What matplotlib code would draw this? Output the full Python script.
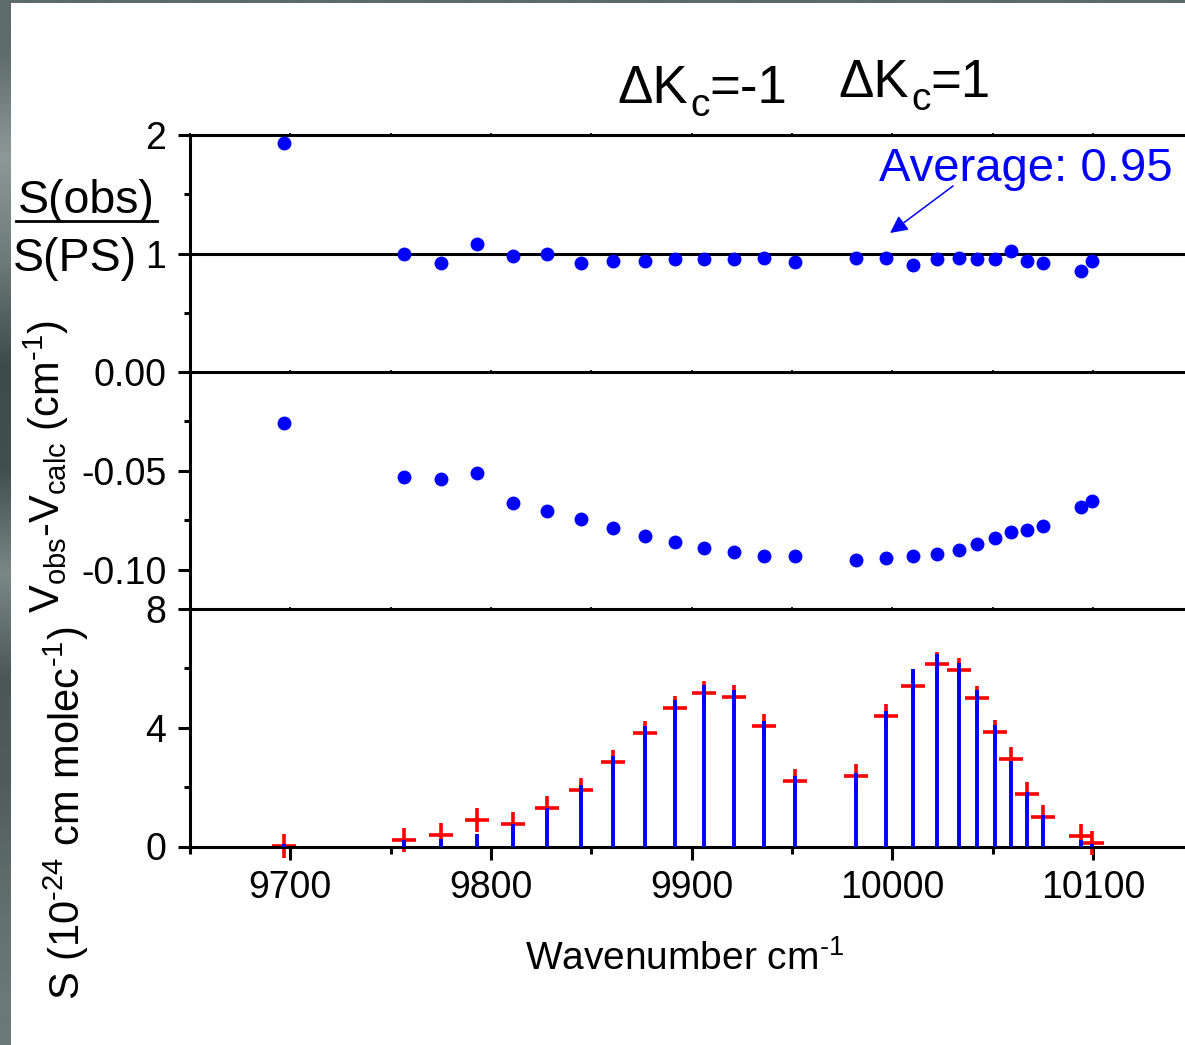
import numpy as np
import matplotlib
matplotlib.use("Agg")
import matplotlib.pyplot as plt
from matplotlib.ticker import FixedLocator, MultipleLocator
from matplotlib.patches import Rectangle
from matplotlib.lines import Line2D

plt.rcParams["font.family"] = ["Liberation Sans", "DejaVu Sans"]
plt.rcParams["mathtext.fontset"] = "custom"
plt.rcParams["mathtext.rm"] = "Liberation Sans"
plt.rcParams["mathtext.default"] = "regular"
plt.rcParams["axes.unicode_minus"] = False

# Line positions (cm-1)
wavenumber = [9697, 9756.5, 9775, 9793, 9811, 9828, 9845, 9861, 9876.5,
              9891.5, 9906, 9921, 9936, 9951.5, 9982, 9997, 10010, 10022,
              10033, 10042, 10051, 10059, 10067, 10075, 10094, 10099.5]

# Intensity ratio S(obs)/S(PS)
ratio = [1.93, 1.00, 0.92, 1.08, 0.98, 1.00, 0.92, 0.94, 0.94,
         0.95, 0.95, 0.95, 0.96, 0.93, 0.96, 0.96, 0.90, 0.95,
         0.96, 0.95, 0.95, 1.02, 0.94, 0.92, 0.85, 0.94]

# Position residuals obs - calc (cm-1)
resid = [-0.026, -0.053, -0.054, -0.051, -0.066, -0.070, -0.074, -0.079, -0.083,
         -0.086, -0.089, -0.091, -0.093, -0.093, -0.095, -0.094, -0.093, -0.092,
         -0.090, -0.087, -0.084, -0.081, -0.080, -0.078, -0.068, -0.065]

# Line intensities (1e-24 cm/molec): observed sticks and calculated crosses
s_obs = [0.08, 0.22, 0.25, 0.43, 0.77, 1.31, 2.06, 3.04, 4.05,
         4.95, 5.44, 5.27, 4.22, 2.39, 2.48, 4.58, 5.97, 6.48,
         6.17, 5.27, 4.08, 2.87, 1.85, 1.07, 0.22, 0.09]
s_calc = [0.03, 0.22, 0.39, 0.90, 0.77, 1.31, 1.90, 2.86, 3.83,
          4.67, 5.18, 5.02, 4.07, 2.22, 2.39, 4.41, 5.39, 6.16,
          5.95, 5.00, 3.87, 2.95, 1.76, 1.01, 0.36, 0.11]

average_ratio = 0.95

W, H = 1185, 1045
fig = plt.figure(figsize=(W / 100, H / 100), dpi=100)

# slide background strip on the left / top, white page
bg_colors = ["#5d6b6a", "#8d9997", "#6c7a78", "#3d4b4a", "#414f4e",
             "#7a8886", "#4a5756", "#505d5c", "#5f6d6b", "#6a7877"]
rgb = np.array([matplotlib.colors.to_rgb(c) for c in bg_colors])[:, None, :]
ax_bg = fig.add_axes([0, 0, 1, 1], zorder=-10)
ax_bg.imshow(rgb, aspect="auto", extent=[0, 1, 0, 1], interpolation="bilinear")
ax_bg.axis("off")
ax_bg.add_patch(Rectangle((11 / W, 0), 1, 1 - 3 / H, transform=ax_bg.transAxes,
                          facecolor="white", edgecolor="none"))

left = 190 / W
width = 1003.5 / W
ax1 = fig.add_axes([left, (H - 372) / H, width, 237 / H])
ax2 = fig.add_axes([left, (H - 609) / H, width, 237 / H])
ax3 = fig.add_axes([left, (H - 846.5) / H, width, 237.5 / H])

blue = "#0000ff"
red = "#ff0000"
lw_axis = 2.2

for ax in (ax1, ax2, ax3):
    ax.set_xlim(9650, 10150)
    ax.spines["right"].set_visible(False)
    ax.spines["left"].set_linewidth(lw_axis)
    ax.spines["bottom"].set_linewidth(lw_axis)
    ax.spines["top"].set_linewidth(lw_axis)
    ax.xaxis.set_major_locator(MultipleLocator(100))
    ax.xaxis.set_minor_locator(MultipleLocator(50))
    ax.tick_params(axis="y", which="major", direction="out", length=8.6,
                   width=lw_axis, labelsize=27, pad=8.5)
    ax.tick_params(axis="y", which="minor", direction="out", length=4.5,
                   width=lw_axis)
    ax.patch.set_alpha(0)

ax2.spines["top"].set_visible(False)
ax3.spines["top"].set_visible(False)

for ax in (ax1, ax2):
    ax.tick_params(axis="x", which="both", direction="inout", length=3,
                   width=1.2, labelbottom=False, top=(ax is ax1))

ax3.tick_params(axis="x", which="major", direction="out", length=9,
                width=lw_axis, labelsize=27, pad=8)
ax3.tick_params(axis="x", which="minor", direction="out", length=5,
                width=lw_axis)

# ratio panel
ax1.set_ylim(0, 2)
ax1.yaxis.set_major_locator(FixedLocator([1, 2]))
ax1.yaxis.set_minor_locator(FixedLocator([0.5, 1.5]))
ax1.axhline(1, color="black", lw=lw_axis, zorder=2)
ax1.plot(wavenumber, ratio, "o", ms=10, mew=0, color=blue, zorder=3,
         clip_on=False)
ax1.text(9993.3, 1.612, f"Average: {average_ratio:.2f}", color=blue,
         fontsize=34, ha="left", va="baseline")
ax1.annotate("", xy=(9998.8, 1.173), xytext=(10030.2, 1.570),
             arrowprops=dict(arrowstyle="-|>,head_length=0.7,head_width=0.35",
                             color=blue, lw=1.1, mutation_scale=15,
                             shrinkA=0, shrinkB=0))

# residual panel
ax2.set_ylim(-0.1197, 0)
ax2.yaxis.set_major_locator(FixedLocator([0, -0.05, -0.10]))
ax2.yaxis.set_minor_locator(FixedLocator([-0.025, -0.075]))
ax2.set_yticklabels(["0.00", "-0.05", "-0.10"])
ax2.plot(wavenumber, resid, "o", ms=10, mew=0, color=blue, zorder=3)

# intensity panel
ax3.set_ylim(0, 8)
ax3.yaxis.set_major_locator(FixedLocator([0, 4, 8]))
ax3.yaxis.set_minor_locator(FixedLocator([2, 6]))
ax3.plot(wavenumber, s_calc, "+", ms=17.5, mew=2.6, color=red, zorder=2,
         clip_on=False)
ax3.vlines(wavenumber, 0, s_obs, color=blue, lw=2.8, zorder=3)
ax3.set_xticks([9700, 9800, 9900, 10000, 10100])
ax3.set_xticklabels(["9700", "9800", "9900", "10000", "10100"])

# axis labels
fig.text(685 / W, 1 - 970 / H, r"Wavenumber cm$^{\text{-}1}$", fontsize=28,
         ha="center", va="baseline")
fig.text(80 / W, 1 - 813 / H, r"S (10$^{\text{-}24}$ cm molec$^{\text{-}1}$)",
         fontsize=30, rotation=90, rotation_mode="anchor", ha="center",
         va="baseline")
fig.text(60 / W, 1 - 467 / H, r"$V_{obs}$-$V_{calc}$ (cm$^{\text{-}1}$)",
         fontsize=30, rotation=90, rotation_mode="anchor", ha="center",
         va="baseline")

fig.text(86 / W, 1 - 213 / H, "S(obs)", fontsize=33.5, ha="center", va="baseline")
fig.add_artist(Line2D([16 / W, 157 / W], [1 - 221 / H, 1 - 221 / H],
                      color="black", lw=2.0))
fig.text(75 / W, 1 - 271 / H, "S(PS)", fontsize=33.5, ha="center", va="baseline")

# branch labels, subscript c set lower by hand
for x0, base, tail in [(617, 103, "=-1"), (838, 97, "=1")]:
    fig.text(x0 / W, 1 - base / H, "ΔK", fontsize=38, ha="left", va="baseline")
    fig.text((x0 + 73) / W, 1 - (base + 13) / H, "c", fontsize=28,
             ha="left", va="baseline")
    fig.text((x0 + 92) / W, 1 - base / H, tail, fontsize=38, ha="left",
             va="baseline")

fig.savefig("out.png", dpi=100)
